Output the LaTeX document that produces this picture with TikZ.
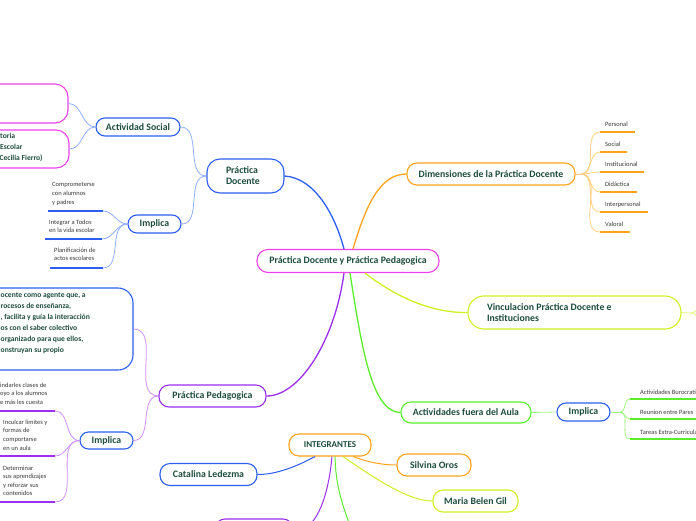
\documentclass[tikz,border=0pt]{standalone}
\usepackage{fontspec}
\setmainfont{Carlito}
\usetikzlibrary{calc}
\definecolor{tcol}{HTML}{1D4D3D}
\definecolor{leafcol}{HTML}{3A3A3A}
\definecolor{cblue}{HTML}{2C5FF0}
\definecolor{lblue}{HTML}{8FB0FF}
\definecolor{cmag}{HTML}{EE40EE}
\definecolor{corange}{HTML}{FFA31A}
\definecolor{lorange}{HTML}{FFD080}
\definecolor{cyg}{HTML}{D0F020}
\definecolor{lyg}{HTML}{E6F880}
\definecolor{cgreen}{HTML}{5AEE2A}
\definecolor{lgreen}{HTML}{A0F580}
\definecolor{cpurple}{HTML}{9B2FF0}
\definecolor{lpurple}{HTML}{D090FF}
\tikzset{
  box/.style={draw, line width=1.1pt, rounded corners=10pt, fill=white, text=tcol,
    font=\bfseries\fontsize{9.8}{11}\selectfont, inner sep=0pt},
  leaf/.style={font=\fontsize{6.5}{8.6}\selectfont, text=leafcol, align=left, inner sep=0pt},
  bigtxt/.style={font=\bfseries\fontsize{7.6}{11}\selectfont, text=tcol, align=left, inner sep=0pt},
  main/.style={line width=1.3pt},
  sub/.style={line width=0.8pt},
  uline/.style={line width=1.6pt}
}
\begin{document}
\begin{tikzpicture}[x=1pt,y=-1pt]
\useasboundingbox (0,0) rectangle (696,520);
\clip (0,0) rectangle (696,520);
\fill[white] (0,0) rectangle (696,520);

\coordinate (dimh) at (581,174);
\coordinate (imp3h) at (620,412);
\coordinate (vinh) at (690,313);
\coordinate (vinA) at (715,285);
\coordinate (vinB) at (715,345);
\coordinate (gbot) at (362,560);

% ---------- nodes ----------
\node[box, draw=cmag, minimum width=182pt, minimum height=23pt, rounded corners=11pt] (root) at (348,261) {Práctica Docente y Práctica Pedagogica};
\node[box, draw=cblue, minimum width=77pt, minimum height=34pt, rounded corners=13pt, text width=39pt, align=flush left] (pd) at (245.5,176) {Práctica\\Docente};
\node[box, draw=cblue, minimum width=84pt, minimum height=18pt, rounded corners=9pt] (as) at (138,127) {Actividad Social};
\node[box, draw=cmag, minimum width=108pt, minimum height=39pt, rounded corners=13pt] (pk1) at (14,103.5) {};
\node[box, draw=cmag, minimum width=109pt, minimum height=38pt, rounded corners=13pt] (pk2) at (14.5,149) {};
\node[bigtxt, anchor=north west] (pk2t) at (0,133) {toria\\Escolar\\\hspace*{-3pt}(Cecilia Fierro)};
\node[box, draw=cblue, minimum width=53pt, minimum height=18pt, rounded corners=9pt] (imp1) at (154.5,224) {Implica};

\node[box, draw=corange, minimum width=168pt, minimum height=22pt, rounded corners=10pt] (dim) at (491,174) {Dimensiones de la Práctica Docente};
\node[box, draw=cyg, minimum width=213pt, minimum height=33pt, rounded corners=16pt, text width=175pt, align=flush left] (vin) at (574.5,312.5) {Vinculacion Práctica Docente e\\Instituciones};
\node[box, draw=cgreen, minimum width=130pt, minimum height=21pt, rounded corners=10pt] (act) at (466,412.5) {Actividades fuera del Aula};
\node[box, draw=cblue, minimum width=53pt, minimum height=18pt, rounded corners=9pt] (imp3) at (583.5,412) {Implica};

\node[box, draw=cblue, minimum width=173pt, minimum height=82pt, rounded corners=15pt] (big) at (46.5,329) {};
\node[bigtxt, anchor=north west] (bigt) at (0.5,292.5) {ocente como agente que, a\\rocesos de enseñanza,\\, facilita y guía la interacción\\os con el saber colectivo\\organizado para que ellos,\\onstruyan su propio};
\node[box, draw=cpurple, minimum width=107pt, minimum height=22pt, rounded corners=10pt] (ped) at (212.5,396) {Práctica Pedagogica};
\node[box, draw=cblue, minimum width=53pt, minimum height=17pt, rounded corners=8.5pt] (imp2) at (106.5,440.5) {Implica};

\node[box, draw=corange, minimum width=82pt, minimum height=22pt, rounded corners=10pt, font=\bfseries\fontsize{9}{11}\selectfont] (int) at (330,445) {INTEGRANTES};
\node[box, draw=cblue, minimum width=97pt, minimum height=22pt, rounded corners=10pt] (cat) at (208.5,474.5) {Catalina Ledezma};
\node[box, draw=corange, minimum width=74pt, minimum height=22pt, rounded corners=10pt] (sil) at (434,465) {Silvina Oros};
\node[box, draw=cyg, minimum width=85pt, minimum height=22pt, rounded corners=10pt] (mar) at (475.5,501) {Maria Belen Gil};
\node[box, draw=cpurple, minimum width=78pt, minimum height=26pt, rounded corners=10pt] (pbot) at (254,532) {};

% ---------- leaves: Dimensiones ----------
\foreach \n/\t/\y/\e in {d1/Personal/132/635, d2/Social/152/627, d3/Institucional/172/644, d4/Didáctica/192/637, d5/Interpersonal/212/648, d6/Valoral/232/630}{
  \coordinate (\n s) at (600,\y);
  \coordinate (\n e) at (\e,\y);
  \node[leaf, anchor=west] (\n) at (605,\y-7.5) {\t};
}
% ---------- leaves: Implica 3 ----------
\foreach \n/\t/\y in {e1/Actividades Burocraticas/399, e2/Reunion entre Pares/419, e3/Tareas Extra-Curriculares/439}{
  \coordinate (\n s) at (630,\y);
  \coordinate (\n e) at (720,\y);
  \node[leaf, anchor=west] (\n) at (640,\y-7) {\t};
}
% ---------- leaves: Implica 1 ----------
\coordinate (a1s) at (48,211); \coordinate (a1e) at (103,211);
\coordinate (a2s) at (45,239); \coordinate (a2e) at (102,239);
\coordinate (a3s) at (50,268); \coordinate (a3e) at (103,268);
\node[leaf, anchor=north west] (a1) at (52,182.5) {Comprometerse\\con alumnos\\y padres};
\node[leaf, anchor=north west] (a2) at (49,219.5) {Integrar a Todos\\en la vida escolar};
\node[leaf, anchor=north west] (a3) at (54,247.5) {Planificación de\\actos escolares};
% ---------- leaves: Implica 2 ----------
\coordinate (b1s) at (-5,411); \coordinate (b1e) at (55,411);
\coordinate (b2s) at (-5,456); \coordinate (b2e) at (55,456);
\coordinate (b3s) at (-5,502); \coordinate (b3e) at (55,502);
\node[leaf, anchor=north west] (b1) at (0,382.5) {indarles clases de\\oyo a los alumnos\\e más les cuesta};
\node[leaf, anchor=north west] (b2) at (3,419.5) {Inculcar límites y\\formas de\\comportarse\\en un aula};
\node[leaf, anchor=north west] (b3) at (3,465.5) {Determinar\\sus aprendizajes\\y reforzar sus\\contenidos};

% ---------- connectors ----------
\draw[main, cblue] ($(root.north)+(-4,0)$) .. controls (335,215) and (315,178) .. (pd.east);
\draw[main, corange] ($(root.north)+(5,0)$) .. controls (366,205) and (380,174) .. (dim.west);
\draw[main, cpurple] ($(root.south)+(-4,0)$) .. controls (335,340) and (300,396) .. (ped.east);
\draw[main, cgreen] ($(root.south)+(2,0)$) .. controls (362,350) and (372,412) .. (act.west);
\draw[main, cyg] ($(root.south)+(17,0)$) .. controls (400,300) and (435,313) .. (vin.west);

\draw[sub, lblue] (pd.west) to[out=180,in=0] (as.east);
\draw[sub, lblue] (pd.west) to[out=180,in=0] (imp1.east);
\draw[sub, lblue] (as.west) to[out=180,in=0] (pk1.east);
\draw[sub, lblue] (as.west) to[out=180,in=0] (pk2.east);
\foreach \n in {a1,a2,a3}{\draw[sub, lblue] (imp1.west) to[out=180,in=0] (\n e);}
\foreach \n in {a1,a2,a3}{\draw[uline, cblue] (\n s) -- (\n e);}

\draw[sub, lorange] (dim.east) -- (dimh);
\foreach \n in {d1,d2,d3,d4,d5,d6}{\draw[sub, lorange] (dimh) to[out=0,in=180] (\n s);}
\foreach \n in {d1,d2,d3,d4,d5,d6}{\draw[uline, corange] (\n s) -- (\n e);}

\draw[sub, lyg] (vin.east) -- (vinh);
\draw[sub, lyg] (vinh) to[out=0,in=180] (vinA);
\draw[sub, lyg] (vinh) to[out=0,in=180] (vinB);

\draw[sub, lgreen] (act.east) -- (imp3.west);
\draw[sub, lgreen] (imp3.east) -- (imp3h);
\foreach \n in {e1,e2,e3}{\draw[sub, lgreen] (imp3h) to[out=0,in=180] (\n s);}
\foreach \n in {e1,e2,e3}{\draw[uline, cgreen] (\n s) -- (\n e);}

\draw[sub, lpurple] (ped.west) to[out=180,in=0] (big.east);
\draw[sub, lpurple] (ped.west) to[out=180,in=0] (imp2.east);
\foreach \n in {b1,b2,b3}{\draw[sub, lpurple] (imp2.west) to[out=180,in=0] (\n e);}
\foreach \n in {b1,b2,b3}{\draw[uline, cpurple] (\n s) -- (\n e);}

\draw[sub, cblue, line width=1pt] ($(int.south)+(-15,0)$) .. controls (290,470) and (272,474.5) .. (cat.east);
\draw[sub, corange, line width=1pt] ($(int.south)+(23,0)$) .. controls (370,463) and (385,465) .. (sil.west);
\draw[sub, cyg, line width=1pt] ($(int.south)+(13,0)$) .. controls (380,482) and (410,501) .. (mar.west);
\draw[sub, cpurple, line width=1pt] ($(int.south)+(2,0)$) .. controls (328,500) and (315,532) .. (pbot.east);
\draw[sub, cgreen, line width=1pt] ($(int.south)+(5,0)$) .. controls (336,500) and (350,520) .. (gbot);
\end{tikzpicture}
\end{document}
